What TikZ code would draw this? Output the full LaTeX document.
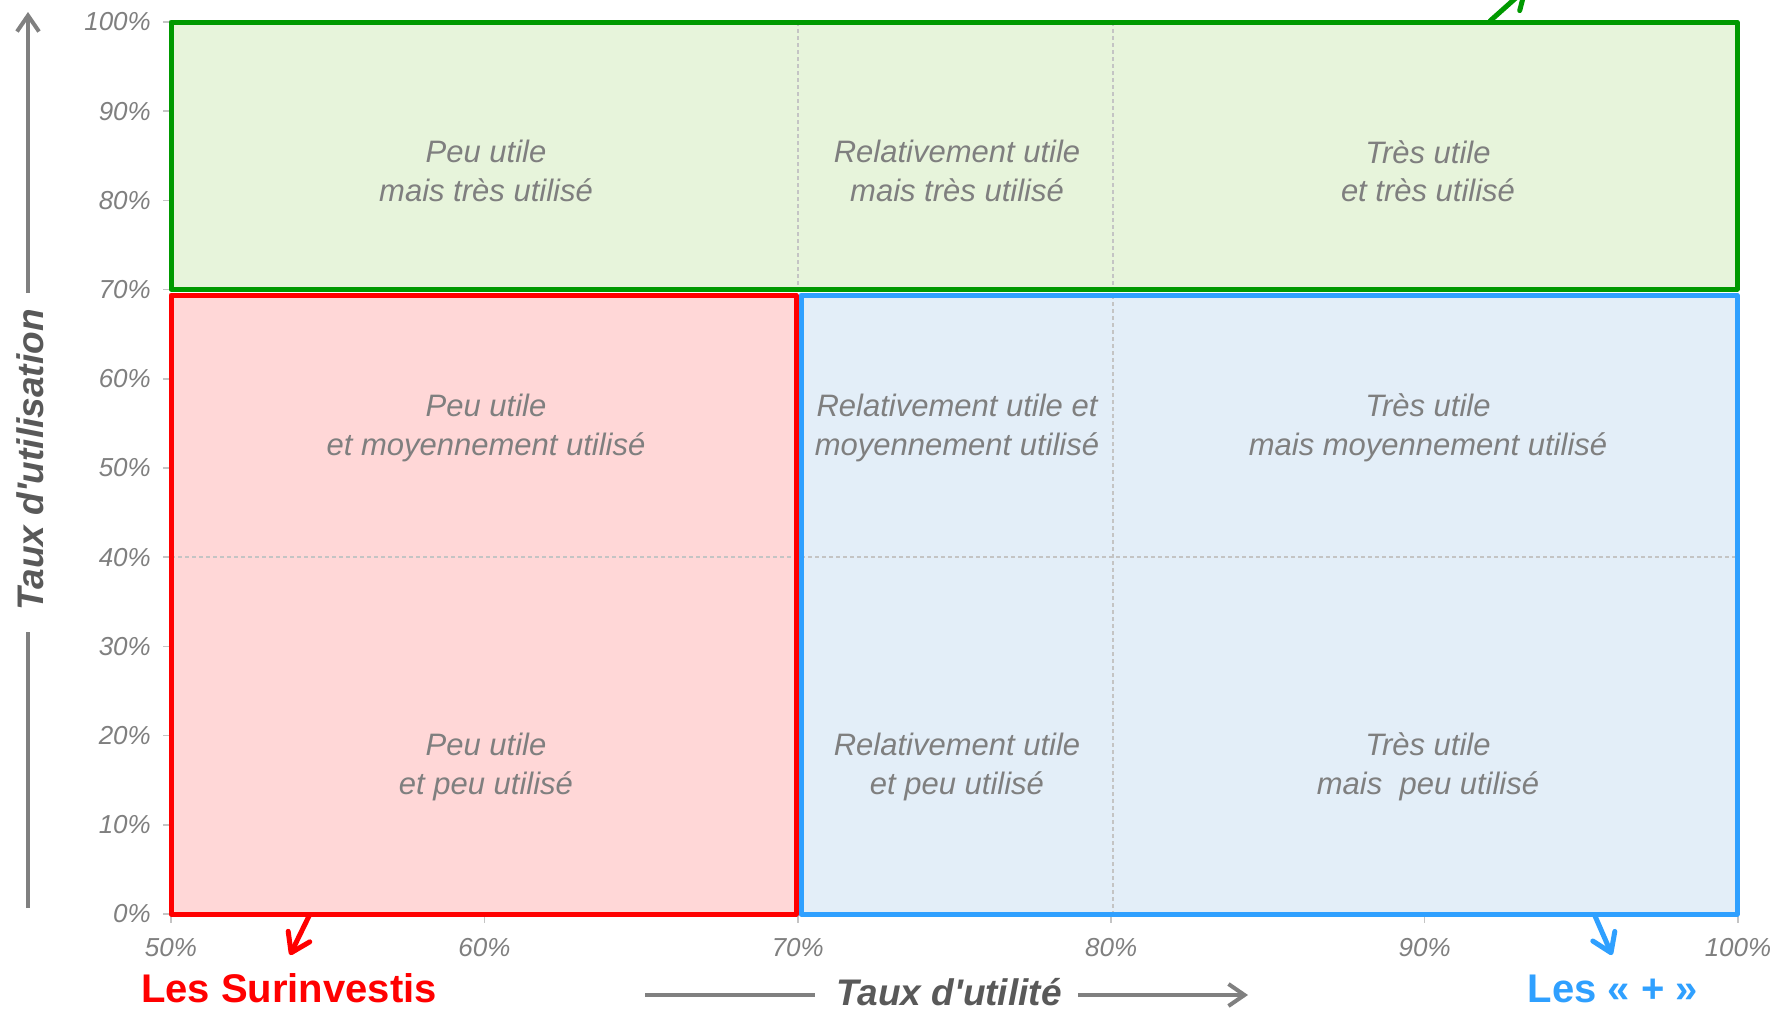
\documentclass[tikz,border=0pt]{standalone}
\usepackage{fontspec}
\newfontfamily\arial{Liberation Sans}
\usetikzlibrary{arrows.meta}
\definecolor{gtext}{HTML}{7F7F7F}
\definecolor{axtext}{HTML}{595959}
\definecolor{axline}{HTML}{808080}
\definecolor{grnline}{HTML}{009900}
\definecolor{grnfill}{HTML}{E7F4DB}
\definecolor{redline}{HTML}{FF0000}
\definecolor{redfill}{HTML}{FFD7D7}
\definecolor{bluline}{HTML}{2FA0FF}
\definecolor{blufill}{HTML}{E3EEF8}
\definecolor{gridc}{HTML}{C4C4C4}
\begin{document}
\begin{tikzpicture}[x=1pt,y=-1pt,
  cell/.style={text=gtext,font=\arial\itshape\fontsize{31}{38.5}\selectfont,align=center,inner sep=0pt},
  ticklab/.style={text=gtext,font=\arial\itshape\fontsize{26}{30}\selectfont,inner sep=0pt},
  axtitle/.style={text=axtext,font=\arial\bfseries\itshape\fontsize{37}{44}\selectfont,inner sep=0pt},
  grp/.style={font=\arial\bfseries\fontsize{40}{48}\selectfont,inner sep=0pt},
  zone/.style={line width=5pt, line join=round},
  gridline/.style={gridc, line width=1.2pt, dash pattern=on 4pt off 3pt},
  tickmark/.style={gridc, line width=1.5pt},
  axbar/.style={axline, line width=4pt},
  axarrow/.style={axline, line width=4pt, -{Straight Barb[length=16pt,width=22pt]}},
  callout/.style={line width=5pt, line cap=round, -{Straight Barb[round,length=18pt,width=24pt]}},
]
\clip (0,0) rectangle (1777,1009);
\fill[white] (0,0) rectangle (1777,1009);
% zone fills
\fill[grnfill] (171,22) rectangle (1737,289);
\fill[redfill] (171,295) rectangle (796,914);
\fill[blufill] (801,295) rectangle (1737,914);
% grid
\draw[gridline] (798,22) -- (798,914);
\draw[gridline] (1113,22) -- (1113,914);
\draw[gridline] (171,557) -- (1737,557);
% ticks and tick labels
\foreach \k in {0,...,10}{
  \pgfmathsetmacro\yy{914-89.2*\k}
  \pgfmathtruncatemacro\v{10*\k}
  \draw[tickmark] (163,\yy) -- (171,\yy);
  \node[ticklab, anchor=east] (yl\k) at (151,\yy) {\v\%};
}
\foreach \k in {0,...,5}{
  \pgfmathsetmacro\xx{171+313.4*\k}
  \pgfmathtruncatemacro\v{50+10*\k}
  \draw[tickmark] (\xx,914) -- (\xx,923);
  \node[ticklab] (xl\k) at (\xx,948) {\v\%};
}
% zone borders
\draw[zone, grnline] (171,22) rectangle (1737,289);
\draw[zone, redline] (171,295) rectangle (796,914);
\draw[zone, bluline] (801,295) rectangle (1737,914);
% cell texts
\node[cell] (c11) at (486,171) {Peu utile\\mais très utilisé};
\node[cell] (c12) at (957,171) {Relativement utile\\mais très utilisé};
\node[cell] (c13) at (1428,171) {Très utile\\et très utilisé};
\node[cell] (c21) at (486,428) {Peu utile\\et moyennement utilisé};
\node[cell] (c22) at (957,428) {Relativement utile et\\moyennement utilisé};
\node[cell] (c23) at (1428,428) {Très utile\\mais moyennement utilisé};
\node[cell] (c31) at (486,767) {Peu utile\\et peu utilisé};
\node[cell] (c32) at (957,767) {Relativement utile\\et peu utilisé};
\node[cell] (c33) at (1428,767) {Très utile\\mais\ \ peu utilisé};
% axis titles and arrows
\node[axtitle, rotate=90] (ytitle) at (30,460) {Taux d'utilisation};
\coordinate (yb0) at (28,908); \coordinate (yb1) at (28,632);
\coordinate (yt0) at (28,293); \coordinate (yt1) at (28,12);
\draw[axbar] (yb0) -- (yb1);
\draw[axarrow] (yt0) -- (yt1);
\node[axtitle, anchor=base] (xtitle) at (949,1005) {Taux d'utilité};
\coordinate (xl0c) at (645,995); \coordinate (xl1c) at (815,995);
\coordinate (xr0c) at (1078,995); \coordinate (xr1c) at (1248,995);
\draw[axbar] (xl0c) -- (xl1c);
\draw[axarrow] (xr0c) -- (xr1c);
% group labels and callouts
\node[grp, text=redline, anchor=base] (surinv) at (289,1002) {Les Surinvestis};
\node[grp, text=bluline, anchor=base] (plus) at (1613,1002) {Les « + »};
\coordinate (rs) at (309,916); \coordinate (re) at (290,955);
\coordinate (bs) at (1595,916); \coordinate (be) at (1612,955);
\coordinate (gs) at (1490,21); \coordinate (ge) at (1527,-12);
\draw[callout, redline] (rs) -- (re);
\draw[callout, bluline] (bs) -- (be);
\draw[callout, grnline] (gs) -- (ge);
\end{tikzpicture}
\end{document}
